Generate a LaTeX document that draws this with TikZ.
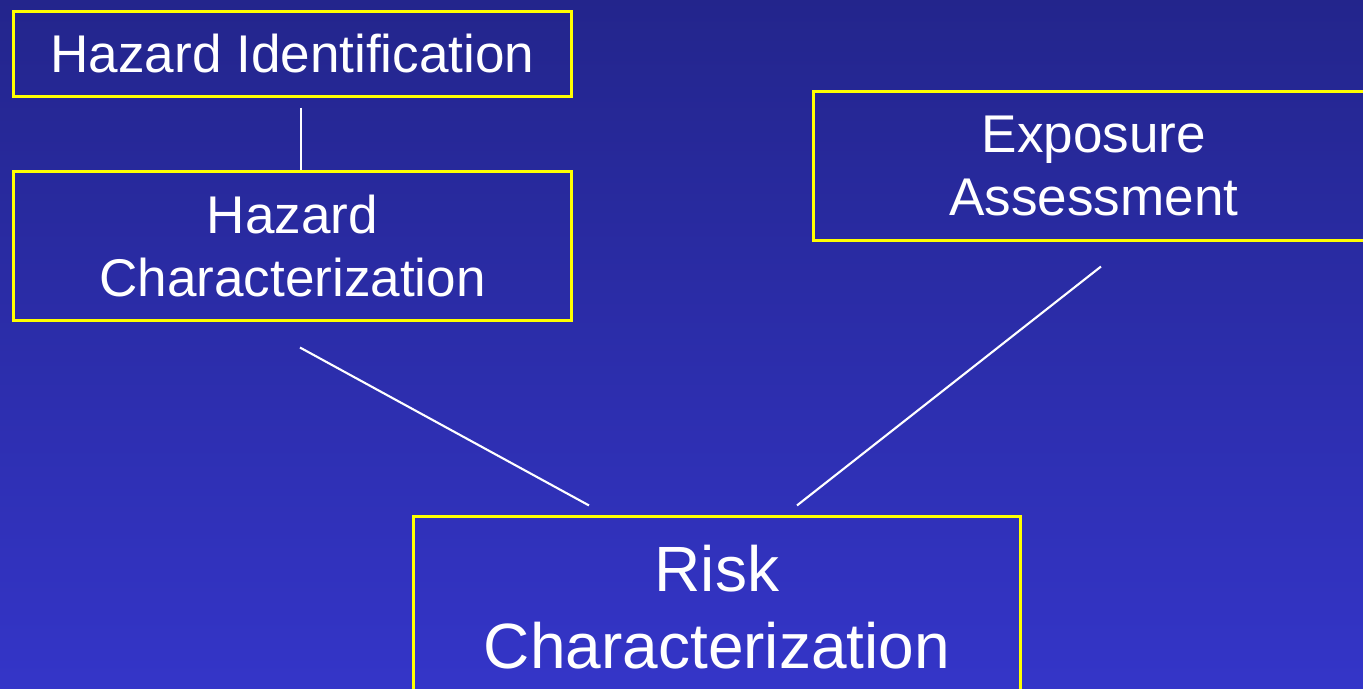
\documentclass[tikz,border=0pt]{standalone}
\usepackage{fontspec}
\setmainfont{Liberation Sans}
\usepackage{xcolor}
\usepackage{tikz}
\usetikzlibrary{positioning,calc}

\definecolor{bgtop}{RGB}{35,37,140}
\definecolor{bgbot}{RGB}{52,53,200}
\definecolor{boxline}{RGB}{255,255,0}

\begin{document}
\begin{tikzpicture}[
						x=0.01cm, y=0.01cm, % 1 unit = 1 pixel
						stage/.style={
							draw=boxline, line width=0.85pt,
							text=white, align=center,
							font=\fontsize{15.1}{17.7}\selectfont,
							inner sep=0pt, anchor=center
						},
						bigstage/.style={
							stage,
							font=\fontsize{18.2}{21.9}\selectfont
						},
						link/.style={
							draw=white, line width=0.6pt
						}
						]
						% Nền
						\fill[top color=bgtop, bottom color=bgbot] (0,0) rectangle (1363,-689);
						\useasboundingbox (0,0) rectangle (1363,-689);
						
						% Các khối
						\node[stage, minimum width=5.58cm, minimum height=0.84cm] (hid) at (292.5,-54) {Hazard Identification};
						\node[stage, minimum width=5.58cm, minimum height=1.48cm] (hchar) at (292.5,-246) {Hazard\\Characterization};
						\node[stage, minimum width=5.60cm, minimum height=1.48cm] (expo) at (1094,-166) {Exposure\\Assessment};
						\node[bigstage, minimum width=6.06cm, minimum height=1.80cm] (risk) at (717,-607) {Risk\\Characterization};
						
						% Đường nối
						\draw[link] ($(hid.south)+(8.5,-10)$) -- ($(hchar.north)+(8.5,0)$);
						\draw[link] ($(hchar.south)+(7.5,-26)$) -- ($(risk.north)+(-128,10)$);
						\draw[link] ($(expo.south)+(7,-25)$) -- ($(risk.north)+(80,10)$);
						
					\end{tikzpicture}
\end{document}
